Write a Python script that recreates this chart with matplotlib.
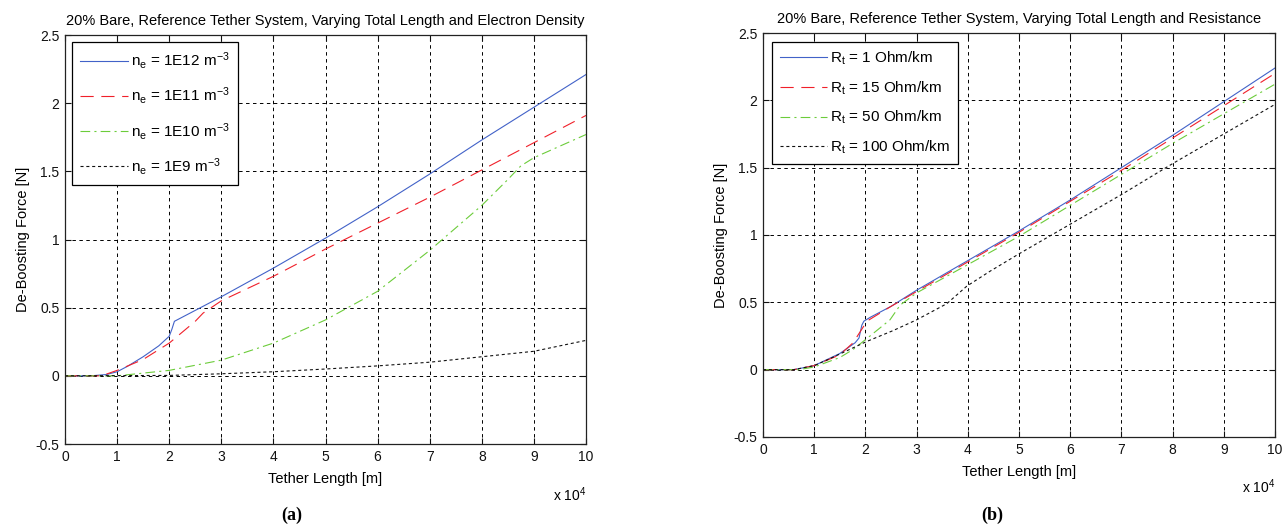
import matplotlib
matplotlib.use("Agg")
import matplotlib.pyplot as plt
from matplotlib.ticker import FuncFormatter

plt.rcParams['font.family'] = ['Liberation Sans', 'DejaVu Sans']
plt.rcParams['mathtext.fontset'] = 'custom'
plt.rcParams['mathtext.rm'] = 'Liberation Sans'
plt.rcParams['mathtext.it'] = 'Liberation Sans'
plt.rcParams['lines.scale_dashes'] = False

# ---------------- data (x in units of 1e4 m) ----------------
# (a) varying electron density
a_titles = "20% Bare, Reference Tether System, Varying Total Length and Electron Density"
a_labels = [r'n$_\mathregular{e}$ = 1E12 m$^\mathregular{-3}$',
            r'n$_\mathregular{e}$ = 1E11 m$^\mathregular{-3}$',
            r'n$_\mathregular{e}$ = 1E10 m$^\mathregular{-3}$',
            r'n$_\mathregular{e}$ = 1E9 m$^\mathregular{-3}$']
a1_x = [0, 0.5, 0.8, 1.0, 1.2, 1.5, 1.8, 2.0, 2.05, 2.1, 2.5, 3, 4, 5, 6, 7, 8, 9, 10]
a1_y = [0, 0.0, 0.01, 0.03, 0.07, 0.14, 0.22, 0.29, 0.34, 0.40, 0.48, 0.58, 0.79, 1.01, 1.24, 1.48, 1.73, 1.97, 2.21]
a2_x = [0, 0.7, 1.0, 1.5, 2.0, 2.5, 2.65, 3, 4, 5, 6, 7, 8, 9, 10]
a2_y = [0, 0, 0.04, 0.12, 0.24, 0.40, 0.46, 0.55, 0.73, 0.93, 1.12, 1.31, 1.51, 1.71, 1.91]
a3_x = [0, 1.0, 1.5, 2.0, 3.0, 4.0, 5.0, 6.0, 7.0, 8.0, 8.5, 8.75, 9.0, 10.0]
a3_y = [0, 0.0, 0.02, 0.04, 0.115, 0.24, 0.41, 0.62, 0.92, 1.25, 1.44, 1.54, 1.60, 1.77]
a4_x = [0, 2, 3, 4, 5, 6, 7, 8, 9, 10]
a4_y = [0, 0.003, 0.015, 0.03, 0.05, 0.073, 0.10, 0.14, 0.18, 0.26]

# (b) varying resistance
b_titles = "20% Bare, Reference Tether System, Varying Total Length and Resistance"
b_labels = [r'R$_\mathregular{t}$ = 1 Ohm/km',
            r'R$_\mathregular{t}$ = 15 Ohm/km',
            r'R$_\mathregular{t}$ = 50 Ohm/km',
            r'R$_\mathregular{t}$ = 100 Ohm/km']
b1_x = [0, 0.6, 1.0, 1.5, 1.8, 1.875, 1.93, 1.97, 2.1, 2.5, 3, 4, 5, 6, 7, 8, 9, 10]
b1_y = [0, 0, 0.03, 0.12, 0.20, 0.235, 0.33, 0.36, 0.39, 0.47, 0.59, 0.81, 1.03, 1.26, 1.50, 1.74, 1.99, 2.24]
b2_x = [0, 0.6, 1.0, 1.5, 1.76, 2.03, 2.2, 2.5, 3, 4, 5, 6, 7, 8, 9, 10]
b2_y = [0, 0, 0.03, 0.11, 0.20, 0.36, 0.40, 0.47, 0.58, 0.80, 1.02, 1.25, 1.48, 1.72, 1.96, 2.20]
b3_x = [0, 0.7, 1.0, 1.5, 1.76, 2.09, 2.48, 2.68, 3.0, 4, 5, 6, 7, 8, 9, 10]
b3_y = [0, 0, 0.02, 0.09, 0.15, 0.25, 0.37, 0.48, 0.57, 0.78, 0.99, 1.22, 1.45, 1.68, 1.90, 2.12]
b4_x = [0, 0.6, 1.0, 1.24, 2.03, 2.54, 3.0, 3.59, 3.98, 4.43, 5, 6, 7, 8, 9, 10]
b4_y = [0, 0, 0.03, 0.07, 0.21, 0.29, 0.37, 0.49, 0.62, 0.73, 0.86, 1.08, 1.30, 1.53, 1.75, 1.97]

x_ticks = list(range(0, 11))
y_ticks = [-0.5, 0, 0.5, 1, 1.5, 2, 2.5]
captions = ["(a)", "(b)"]

# ---------------- styles ----------------
colors = ['#4262c8', '#f0202a', '#6ccc3a', '#111111']
styles = ['-', (0, (9.5, 5.5)), (0, (7, 3, 1.5, 3)), (0, (2.2, 2.0))]

W, H = 1288, 527
fig = plt.figure(figsize=(W / 100, H / 100), dpi=100)
axA = fig.add_axes([65 / W, 1 - 444 / H, 521 / W, 409 / H])
axB = fig.add_axes([763 / W, 1 - 437 / H, 512 / W, 404 / H])

def setup(ax, title):
    ax.set_xlim(0, 10)
    ax.set_ylim(-0.5, 2.5)
    ax.set_xticks(x_ticks)
    ax.set_yticks(y_ticks)
    ax.xaxis.set_major_formatter(FuncFormatter(lambda v, p: '%g' % v))
    ax.yaxis.set_major_formatter(FuncFormatter(lambda v, p: '%g' % v))
    ax.tick_params(direction='in', length=4, width=0.8, top=True, right=True,
                   labelsize=10, pad=4, colors='#111111')
    ax.grid(True, color='black', linestyle=(0, (2.5, 2.5)), linewidth=0.7)
    for s in ax.spines.values():
        s.set_linewidth(0.9)
        s.set_color('#222222')
    ax.set_title(title, fontsize=10.5, pad=7)
    ax.set_xlabel('Tether Length [m]', fontsize=10.5, labelpad=6)
    ax.set_ylabel('De-Boosting Force [N]', fontsize=10.5, labelpad=4)
    ax.text(1.0, -0.1, r'x 10$^\mathregular{4}$', transform=ax.transAxes,
            ha='right', va='top', fontsize=10)

setup(axA, a_titles)
setup(axB, b_titles)

for (x, y), c, ls, lab in zip([(a1_x, a1_y), (a2_x, a2_y), (a3_x, a3_y), (a4_x, a4_y)],
                              colors, styles, a_labels):
    axA.plot(x, y, color=c, linestyle=ls, linewidth=0.8, label=lab)
for (x, y), c, ls, lab in zip([(b1_x, b1_y), (b2_x, b2_y), (b3_x, b3_y), (b4_x, b4_y)],
                              colors, styles, b_labels):
    axB.plot(x, y, color=c, linestyle=ls, linewidth=0.8, label=lab)

legA = axA.legend(loc='upper left', bbox_to_anchor=(7 / 521, 1 - 7 / 409),
                  borderaxespad=0, fancybox=False, edgecolor='black', framealpha=1,
                  fontsize=11, handlelength=3.1, labelspacing=0.92, handletextpad=0.2,
                  borderpad=0.55)
legB = axB.legend(loc='upper left', bbox_to_anchor=(9 / 512, 1 - 9 / 404),
                  borderaxespad=0, fancybox=False, edgecolor='black', framealpha=1,
                  fontsize=11, handlelength=3.1, labelspacing=0.8, handletextpad=0.2,
                  borderpad=0.5)
for lg in (legA, legB):
    lg.get_frame().set_linewidth(0.9)

fig.text(292 / W, 1 - 515 / H, captions[0], family='Liberation Serif',
         fontweight='bold', fontsize=13, ha='center', va='center')
fig.text(992 / W, 1 - 515 / H, captions[1], family='Liberation Serif',
         fontweight='bold', fontsize=13, ha='center', va='center')

fig.savefig('out.png', dpi=100)
